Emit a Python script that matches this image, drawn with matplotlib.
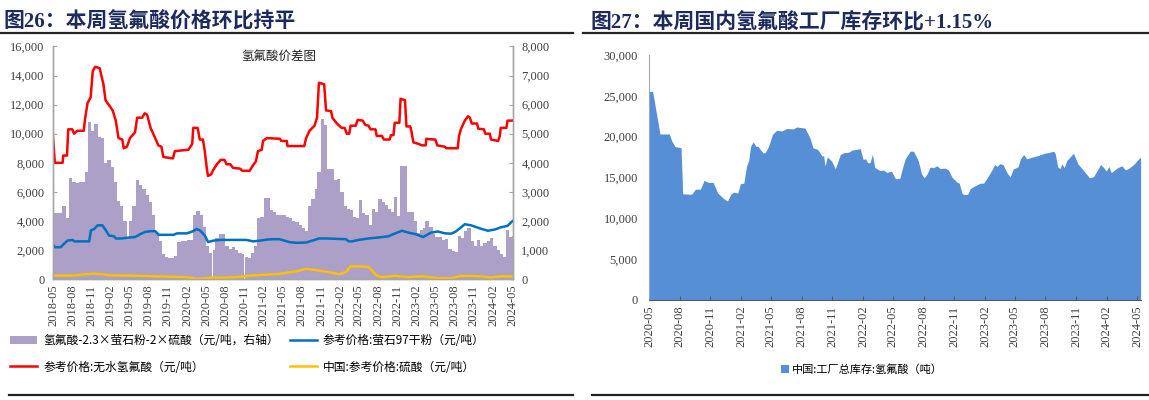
import pandas as pd
import matplotlib.pyplot as plt
from matplotlib.lines import Line2D
from matplotlib.patches import Patch
from matplotlib.ticker import FuncFormatter, MultipleLocator
import matplotlib.dates as mdates

plt.rcParams['font.family'] = ['Liberation Serif', 'Noto Sans CJK SC']

# ---- 图26 数据 ----
hf_dates = ['2018-05-01', '2018-05-10', '2018-06-16', '2018-06-19', '2018-07-07', '2018-07-13',
            '2018-08-01', '2018-08-10', '2018-08-25', '2018-09-25', '2018-10-01', '2018-10-13',
            '2018-10-28', '2018-11-07', '2018-11-19', '2018-12-10', '2018-12-28', '2019-01-07',
            '2019-01-22', '2019-02-10', '2019-02-25', '2019-03-10', '2019-03-28', '2019-04-04',
            '2019-04-19', '2019-05-04', '2019-05-28', '2019-06-07', '2019-07-01', '2019-07-13',
            '2019-07-25', '2019-08-10', '2019-09-01', '2019-09-16', '2019-10-01', '2019-10-10',
            '2019-11-25', '2019-12-04', '2020-02-07', '2020-02-25', '2020-03-01', '2020-03-22',
            '2020-04-01', '2020-04-16', '2020-04-25', '2020-05-04', '2020-05-10', '2020-05-25',
            '2020-06-04', '2020-06-22', '2020-07-10', '2020-07-28', '2020-08-07', '2020-08-25',
            '2020-09-07', '2020-10-10', '2020-10-22', '2020-11-25', '2020-12-10', '2020-12-25',
            '2021-01-04', '2021-01-22', '2021-01-28', '2021-02-16', '2021-04-19', '2021-04-25',
            '2021-05-22', '2021-05-25', '2021-08-13', '2021-08-22', '2021-09-07', '2021-10-01',
            '2021-10-13', '2021-10-22', '2021-11-16', '2021-11-25', '2021-12-19', '2021-12-25',
            '2022-01-16', '2022-02-07', '2022-02-22', '2022-03-04', '2022-03-16', '2022-03-22',
            '2022-04-16', '2022-04-25', '2022-05-19', '2022-06-01', '2022-06-16', '2022-06-25',
            '2022-07-19', '2022-07-25', '2022-08-19', '2022-08-28', '2022-09-25', '2022-10-01',
            '2022-10-13', '2022-10-19', '2022-11-10', '2022-11-16', '2022-12-07', '2022-12-14',
            '2023-01-01', '2023-01-07', '2023-01-16', '2023-02-10', '2023-02-25', '2023-03-16',
            '2023-03-19', '2023-04-22', '2023-05-01', '2023-05-10', '2023-06-16', '2023-06-22',
            '2023-08-16', '2023-08-22', '2023-09-01', '2023-09-19', '2023-10-04', '2023-10-13',
            '2023-10-22', '2023-11-16', '2023-11-22', '2023-12-19', '2023-12-25', '2024-01-16',
            '2024-01-22', '2024-02-25', '2024-03-04', '2024-03-08', '2024-04-04', '2024-04-10',
            '2024-05-04']
hf_price = [9800, 8000, 8000, 8500, 8500, 10300,
            10300, 10000, 10200, 10200, 11000, 12100,
            12500, 14300, 14600, 14500, 13400, 12300,
            12000, 11600, 10900, 9700, 9600, 9000,
            9100, 9700, 10100, 11100, 11100, 11400,
            11300, 10400, 9700, 9200, 9100, 8400,
            8300, 8800, 8900, 9300, 10400, 10400,
            9600, 9600, 8800, 7700, 7100, 7200,
            7500, 7900, 8200, 8200, 7900, 7900,
            7650, 7600, 7450, 7450, 7800, 8100,
            8800, 8900, 9500, 9700, 9650, 9500,
            9500, 9150, 9150, 9700, 10200, 10550,
            11100, 13500, 13400, 11600, 11550, 11100,
            10700, 10400, 10400, 10000, 10000, 10550,
            10550, 10950, 10900, 10600, 10550, 10300,
            10300, 9850, 9850, 9600, 9600, 9900,
            9900, 10750, 10750, 12400, 12300, 10500,
            10500, 10150, 9400, 9300, 9200, 9200,
            9650, 9600, 9600, 9200, 9100, 9000,
            9000, 9850, 10350, 10900, 11200, 11100,
            10700, 10700, 10350, 10300, 10000, 10000,
            9600, 9500, 9850, 10400, 10400, 10900,
            10900]

fluorite_dates = ['2018-05-01', '2018-05-10', '2018-06-07', '2018-06-24', '2018-07-09', '2018-08-03',
                  '2018-08-10', '2018-10-21', '2018-10-29', '2018-11-14', '2018-11-30', '2018-12-23',
                  '2019-01-09', '2019-01-24', '2019-02-17', '2019-02-25', '2019-03-27', '2019-04-19',
                  '2019-05-29', '2019-06-22', '2019-07-16', '2019-08-09', '2019-09-02', '2019-09-18',
                  '2019-11-28', '2019-12-14', '2020-01-30', '2020-03-01', '2020-03-16', '2020-04-02',
                  '2020-04-25', '2020-05-11', '2020-06-04', '2020-07-07', '2020-11-10', '2020-12-12',
                  '2021-01-13', '2021-02-14', '2021-03-15', '2021-04-16', '2021-06-03', '2021-07-06',
                  '2021-08-22', '2021-09-20', '2021-10-23', '2021-11-25', '2022-02-28', '2022-03-13',
                  '2022-03-28', '2022-04-30', '2022-06-16', '2022-08-04', '2022-09-19', '2022-10-13',
                  '2022-11-22', '2022-12-24', '2023-01-26', '2023-03-04', '2023-04-10', '2023-05-13',
                  '2023-06-16', '2023-07-16', '2023-08-07', '2023-09-19', '2023-10-19', '2023-11-30',
                  '2024-01-07', '2024-02-10', '2024-03-08', '2024-04-10', '2024-04-30', '2024-05-04']
fluorite_price = [2400, 2200, 2200, 2450, 2650, 2700,
                  2600, 2600, 3350, 3450, 3700, 3700,
                  3350, 3000, 2950, 2800, 2800, 2850,
                  2900, 3100, 3250, 3300, 3300, 3050,
                  3050, 3150, 3150, 3300, 3450, 3350,
                  3000, 2550, 2650, 2700, 2700, 2600,
                  2650, 2720, 2750, 2750, 2550, 2500,
                  2520, 2650, 2800, 2800, 2750, 2600,
                  2600, 2700, 2800, 2870, 2950, 3100,
                  3330, 3200, 3100, 2900, 3200, 3280,
                  3150, 3130, 3280, 3780, 3700, 3490,
                  3330, 3420, 3560, 3670, 3950, 4000]

acid_dates = ['2018-05-01', '2018-08-10', '2018-09-28', '2018-11-13', '2018-12-22', '2019-01-25',
              '2019-04-19', '2019-08-10', '2019-11-28', '2020-02-01', '2020-03-01', '2020-03-16',
              '2020-04-19', '2020-06-04', '2020-08-07', '2020-10-10', '2020-11-25', '2021-01-28',
              '2021-03-01', '2021-05-01', '2021-07-07', '2021-08-22', '2021-09-22', '2021-11-07',
              '2021-12-25', '2022-01-28', '2022-03-01', '2022-03-22', '2022-05-01', '2022-06-16',
              '2022-07-01', '2022-07-25', '2022-08-19', '2022-10-22', '2022-12-25', '2023-02-25',
              '2023-05-13', '2023-07-16', '2023-09-01', '2023-12-04', '2024-01-22', '2024-03-07',
              '2024-05-04']
acid_price = [250, 250, 340, 390, 340, 270,
              250, 210, 160, 140, 70, 20,
              70, 110, 110, 160, 250, 300,
              320, 390, 550, 710, 660, 550,
              440, 340, 500, 880, 880, 840,
              620, 250, 140, 230, 140, 200,
              70, 70, 230, 200, 110, 200,
              180]

# 价差（右轴），半月数据
spread_dates = pd.date_range('2018-05-01', '2024-05-01', freq='SMS')
spread = [2270, 2270, 2270, 2500, 2100, 3470, 3350, 3300, 3350, 3350,
          3700, 5400, 5100, 5350, 4900, 4850, 4000, 4100, 3850, 3350,
          2700, 2500, 2000, 1450, 2000, 2500, 3420, 3250, 3100, 2900,
          2650, 2200, 1600, 1300, 880, 760, 720, 720, 800, 1280,
          1300, 1320, 1350, 1350, 2200, 2330, 2200, 1800, 1150, 900,
          1000, 1400, 1570, 1550, 1150, 1050, 1100, 1000, 900, 850,
          780, 720, 900, 1150, 2120, 2150, 2790, 2790, 2380, 2300,
          2210, 2200, 2200, 2150, 2100, 2000, 1950, 1850, 1750, 1650,
          2500, 2750, 3100, 3700, 5500, 5300, 3800, 3800, 3400, 3450,
          3000, 2500, 2400, 2380, 2150, 2100, 2730, 2270, 2200, 1850,
          2400, 2300, 2750, 2650, 2550, 2400, 2300, 2840, 2160, 3880,
          3880, 2300, 2300, 2000, 1600, 1700, 1750, 2000, 1800, 1570,
          1460, 1450, 1350, 1370, 1050, 980, 950, 1500, 1400, 1650,
          1750, 1300, 1150, 1350, 1150, 1250, 1300, 1400, 1150, 1000,
          880, 780, 1700, 1450, 1500]

# ---- 图27 数据 ----
inv_dates = ['2020-05-01', '2020-05-12', '2020-06-03', '2020-07-01', '2020-07-08', '2020-07-18',
             '2020-08-05', '2020-08-10', '2020-09-02', '2020-09-07', '2020-09-17', '2020-10-02',
             '2020-10-13', '2020-10-26', '2020-11-09', '2020-11-23', '2020-12-11', '2020-12-22',
             '2021-01-02', '2021-01-10', '2021-01-22', '2021-01-30', '2021-02-09', '2021-02-17',
             '2021-02-24', '2021-03-01', '2021-03-09', '2021-03-17', '2021-03-24', '2021-04-07',
             '2021-04-14', '2021-04-24', '2021-05-06', '2021-05-18', '2021-06-03', '2021-06-17',
             '2021-07-07', '2021-07-17', '2021-08-11', '2021-08-26', '2021-09-04', '2021-09-18',
             '2021-10-01', '2021-10-06', '2021-10-10', '2021-10-17', '2021-10-30', '2021-11-10',
             '2021-11-25', '2021-12-05', '2021-12-20', '2021-12-30', '2022-01-24', '2022-02-01',
             '2022-02-08', '2022-02-15', '2022-02-22', '2022-03-01', '2022-03-08', '2022-03-23',
             '2022-04-03', '2022-04-13', '2022-04-27', '2022-05-09', '2022-05-22', '2022-05-27',
             '2022-06-07', '2022-06-22', '2022-07-02', '2022-07-16', '2022-07-26', '2022-08-03',
             '2022-08-11', '2022-08-21', '2022-08-31', '2022-09-10', '2022-09-20', '2022-10-05',
             '2022-10-15', '2022-10-25', '2022-11-09', '2022-11-16', '2022-11-24', '2022-11-29',
             '2022-12-11', '2022-12-19', '2023-01-04', '2023-01-18', '2023-01-28', '2023-02-09',
             '2023-02-22', '2023-03-02', '2023-03-09', '2023-03-17', '2023-03-27', '2023-04-07',
             '2023-04-17', '2023-04-27', '2023-05-11', '2023-05-18', '2023-05-28', '2023-06-06',
             '2023-06-21', '2023-07-10', '2023-07-30', '2023-08-10', '2023-08-25', '2023-08-30',
             '2023-09-07', '2023-09-14', '2023-09-19', '2023-09-26', '2023-10-04', '2023-10-24',
             '2023-11-06', '2023-11-23', '2023-12-11', '2023-12-23', '2024-01-03', '2024-01-13',
             '2024-01-23', '2024-01-30', '2024-02-07', '2024-02-14', '2024-02-22', '2024-03-04',
             '2024-03-17', '2024-03-27', '2024-04-06', '2024-04-21', '2024-05-06', '2024-05-12']
inventory = [25540, 25540, 20330, 20330, 19500, 18800,
             18640, 13010, 12950, 13000, 13570, 13570,
             14640, 14400, 14400, 13090, 12400, 12120,
             13010, 13200, 13100, 14250, 14300, 16350,
             17170, 18800, 19360, 18830, 18800, 18000,
             18050, 18800, 20280, 20770, 20700, 21000,
             20950, 21180, 21050, 19850, 18640, 18440,
             17620, 17700, 16400, 17530, 17000, 16070,
             17820, 18030, 18100, 18360, 18520, 17210,
             17300, 16810, 16810, 17840, 16240, 15850,
             15920, 15630, 15780, 14840, 14900, 15700,
             17280, 18220, 18220, 17080, 15450, 14960,
             15400, 16270, 16200, 16430, 16100, 16150,
             15900, 15050, 14440, 14300, 13090, 12930,
             12930, 13650, 14020, 14300, 14300, 15050,
             15940, 16590, 16350, 16680, 16590, 15650,
             15050, 16060, 16300, 17280, 17810, 17280,
             17480, 17690, 17970, 18050, 18220, 17970,
             16270, 16100, 16680, 16200, 17080, 17970,
             16680, 15860, 14960, 15100, 15860, 16590,
             16190, 15780, 16350, 15610, 15850, 16190,
             16430, 15940, 16100, 16590, 17280, 17480]

title_left = '图26：本周氢氟酸价格环比持平'
title_right = '图27：本周国内氢氟酸工厂库存环比+1.15%'
label_spread = '氢氟酸-2.3×萤石粉-2×硫酸（元/吨，右轴）'
label_fluorite = '参考价格:萤石97干粉（元/吨）'
label_hf = '参考价格:无水氢氟酸（元/吨）'
label_acid = '中国:参考价格:硫酸（元/吨）'
label_inv = '中国:工厂总库存:氢氟酸（吨）'

PURPLE = '#ac9fc8'
RED = '#ff0000'
BLUE = '#0070c0'
YELLOW = '#ffc000'
INV_BLUE = '#568fd5'
NAVY = '#1c2a5e'
TICK_C = '#404040'
SPINE_C = '#a6a6a6'

thousands = FuncFormatter(lambda v, p: f'{int(v):,}')
cjk = ['Noto Sans CJK SC', 'DejaVu Sans']
title_font = ['Liberation Serif', 'Noto Sans CJK SC']

fig = plt.figure(figsize=(11.49, 4.0), dpi=100)

# 标题与分隔线
fig.text(0.003, 0.945, title_left, fontsize=15, fontweight='bold', color=NAVY,
         family=title_font, va='center', ha='left')
fig.text(0.514, 0.945, title_right, fontsize=15, fontweight='bold', color=NAVY,
         family=title_font, va='center', ha='left')
fig.add_artist(Line2D([0.0, 0.499], [0.917, 0.917], color='#222222', lw=1.6))
fig.add_artist(Line2D([0.507, 1.0], [0.917, 0.917], color='#222222', lw=1.6))
fig.add_artist(Line2D([0.008, 0.499], [0.012, 0.012], color='#222222', lw=1.6))
fig.add_artist(Line2D([0.515, 1.0], [0.012, 0.012], color='#222222', lw=1.6))

# ---- 左图 ----
ax = fig.add_axes([0.0461, 0.302, 0.4004, 0.582])
ax2 = ax.twinx()
ax.set_zorder(ax2.get_zorder() + 1)
ax.patch.set_visible(False)

ax2.bar(spread_dates, spread, width=16.5, align='edge', color=PURPLE, linewidth=0,
        antialiased=False)
ax.plot(pd.to_datetime(hf_dates), hf_price, color=RED, lw=1.8)
ax.plot(pd.to_datetime(fluorite_dates), fluorite_price, color=BLUE, lw=1.8)
ax.plot(pd.to_datetime(acid_dates), acid_price, color=YELLOW, lw=1.8)

ax.set_xlim(pd.Timestamp('2018-05-01'), pd.Timestamp('2024-05-06'))
ax.set_ylim(0, 16000)
ax2.set_ylim(0, 8000)
ax.yaxis.set_major_locator(MultipleLocator(2000))
ax2.yaxis.set_major_locator(MultipleLocator(1000))
ax.yaxis.set_major_formatter(thousands)
ax2.yaxis.set_major_formatter(thousands)

ticks_left = pd.date_range('2018-05-01', '2024-05-01', freq='3MS')
ax.set_xticks(ticks_left)
ax.xaxis.set_major_formatter(mdates.DateFormatter('%Y-%m'))

for a in (ax, ax2):
    a.spines['top'].set_visible(False)
    for s in ('left', 'right', 'bottom'):
        a.spines[s].set_color(SPINE_C)
        a.spines[s].set_linewidth(1.0)
    a.tick_params(axis='both', direction='in', length=3, color=SPINE_C,
                  labelsize=9, labelcolor=TICK_C)
ax.tick_params(axis='x', rotation=90, pad=4)
ax.tick_params(axis='y', pad=6)
ax2.tick_params(axis='y', pad=6)

ax.text(0.49, 0.985, '氢氟酸价差图', transform=ax.transAxes, ha='center', va='top',
        fontsize=9, color='#222222', family=cjk)

leg_kw = dict(frameon=False, handlelength=2.3, handletextpad=0.5,
              labelspacing=1.15, loc='upper left', borderaxespad=0, borderpad=0,
              prop={'family': cjk, 'size': 8.5})
fig.legend([Patch(facecolor=PURPLE, edgecolor='none'), Line2D([], [], color=RED, lw=1.8)],
           [label_spread, label_hf], bbox_to_anchor=(0.009, 0.165), **leg_kw)
fig.legend([Line2D([], [], color=BLUE, lw=1.8), Line2D([], [], color=YELLOW, lw=1.8)],
           [label_fluorite, label_acid], bbox_to_anchor=(0.252, 0.165), **leg_kw)

# ---- 右图 ----
bx = fig.add_axes([0.5648, 0.25, 0.4282, 0.6125])
bx.fill_between(pd.to_datetime(inv_dates), inventory, 0, color=INV_BLUE, linewidth=0)
bx.set_xlim(pd.Timestamp('2020-05-01'), pd.Timestamp('2024-05-13'))
bx.set_ylim(0, 30000)
bx.yaxis.set_major_locator(MultipleLocator(5000))
bx.yaxis.set_major_formatter(thousands)
ticks_right = pd.date_range('2020-05-01', '2024-05-01', freq='3MS')
bx.set_xticks(ticks_right)
bx.xaxis.set_major_formatter(mdates.DateFormatter('%Y-%m'))
bx.spines['top'].set_visible(False)
bx.spines['right'].set_visible(False)
bx.spines['left'].set_color(SPINE_C)
bx.spines['bottom'].set_color('#595959')
bx.tick_params(axis='x', direction='in', length=3, color='#595959', rotation=90,
               labelsize=9, labelcolor=TICK_C, pad=4)
bx.tick_params(axis='y', length=0, labelsize=9, labelcolor=TICK_C, pad=8)

fig.legend([Patch(facecolor=INV_BLUE, edgecolor='none')], [label_inv],
           loc='center', bbox_to_anchor=(0.75, 0.077), frameon=False,
           handlelength=0.7, handleheight=0.7, handletextpad=0.3,
           prop={'family': cjk, 'size': 8})

fig.savefig('out.png', dpi=100)
